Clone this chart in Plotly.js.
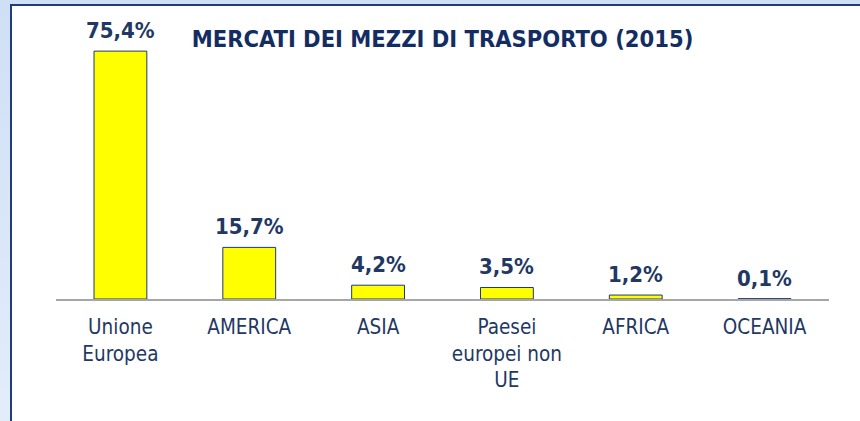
<!DOCTYPE html>
<html>
<head>
<meta charset="utf-8">
<script src="https://cdn.plot.ly/plotly-3.0.1.min.js"></script>
<style>
  html, body { margin: 0; padding: 0; width: 860px; height: 421px; overflow: hidden;
    background: linear-gradient(to bottom, #cfdff5, #e3edfa); }
  #wrap { position: absolute; left: 10px; top: 4px; width: 850px; height: 417px;
    border-left: 2px solid #1f3d7a; border-top: 2px solid #1f3d7a; background: #ffffff; }
  #chart { width: 848px; height: 415px; }
</style>
</head>
<body>
<div id="wrap"><div id="chart"></div></div>
<script>
const categories = ["Unione<br>Europea", "AMERICA", "ASIA", "Paesei<br>europei non<br>UE", "AFRICA", "OCEANIA"];
const values = [75.4, 15.7, 4.2, 3.5, 1.2, 0.1];
const valueLabels = ["75,4%", "15,7%", "4,2%", "3,5%", "1,2%", "0,1%"];
const chartTitle = "MERCATI DEI MEZZI DI TRASPORTO (2015)";

const navy = "#1f3864";
const fam = "'DejaVu Sans Condensed', 'DejaVu Sans', sans-serif";

const trace = {
  type: "bar",
  x: categories,
  y: values,
  marker: { color: "#ffff00", line: { color: "#1f3a75", width: 1 } },
  hoverinfo: "none"
};

const annotations = categories.map((c, i) => ({
  x: c, y: values[i], xref: "x", yref: "y",
  text: valueLabels[i], showarrow: false,
  yanchor: "bottom", yshift: 6,
  font: { family: fam, size: 22, color: navy, weight: "bold" }
}));

const layout = {
  width: 848, height: 415,
  margin: { l: 44, r: 31, t: 30, b: 122 },
  paper_bgcolor: "rgba(0,0,0,0)",
  plot_bgcolor: "rgba(0,0,0,0)",
  title: {
    text: "<b>" + chartTitle + "</b>",
    x: 0.5, xref: "paper", xanchor: "center",
    y: 1 - 33 / 415, yref: "container", yanchor: "middle",
    font: { family: fam, size: 23.5, color: "#132d63" }
  },
  bargap: 0.59,
  showlegend: false,
  xaxis: {
    type: "category",
    showline: true, linecolor: "#a6a6a6", linewidth: 1.5,
    ticks: "", showgrid: false, zeroline: false,
    ticklabelstandoff: 9,
    tickfont: { family: fam, size: 20.5, color: navy },
    fixedrange: true
  },
  yaxis: {
    range: [0, 80], visible: false, showgrid: false, zeroline: false, fixedrange: true
  },
  annotations: annotations
};

Plotly.newPlot("chart", [trace], layout, { staticPlot: true, displayModeBar: false });
</script>
</body>
</html>
